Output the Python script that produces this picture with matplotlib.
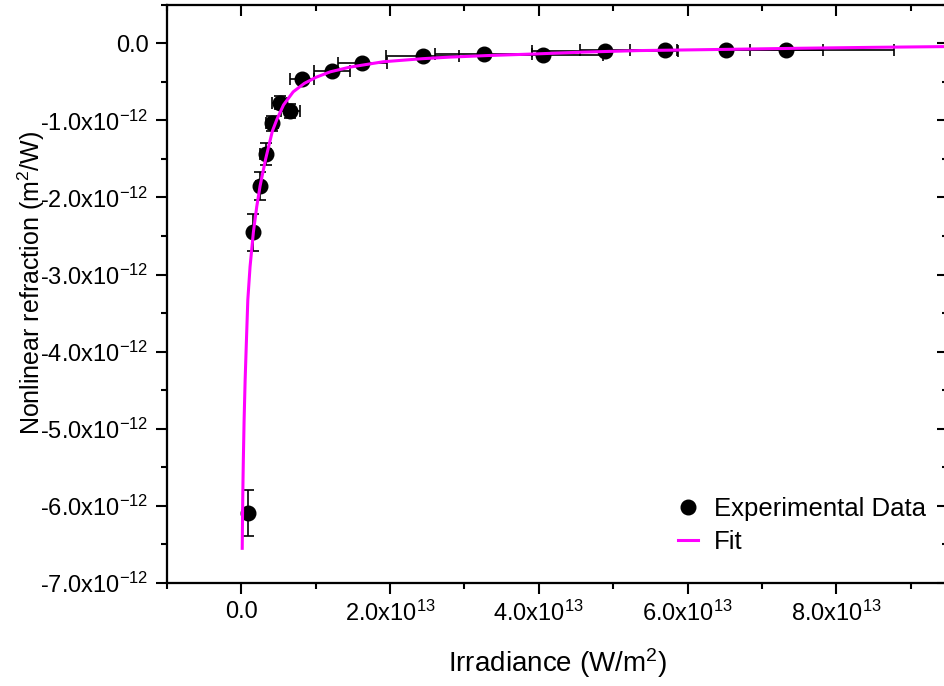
import matplotlib
matplotlib.use("Agg")
import matplotlib.pyplot as plt
import numpy as np
from matplotlib.ticker import MultipleLocator, FixedLocator, FuncFormatter, NullFormatter
from matplotlib.lines import Line2D

plt.rcParams['font.family'] = ['Liberation Sans', 'DejaVu Sans']
plt.rcParams['mathtext.fontset'] = 'custom'
plt.rcParams['mathtext.rm'] = 'Liberation Sans'
plt.rcParams['mathtext.it'] = 'Liberation Sans:italic'

# irradiance in 1e13 W/m^2, n2 in 1e-12 m^2/W
irradiance = [0.098, 0.165, 0.255, 0.33, 0.415, 0.52, 0.66, 0.82, 1.22, 1.63,
              2.44, 3.26, 4.06, 4.89, 5.70, 6.52, 7.32]
n2 = [-6.09, -2.45, -1.85, -1.44, -1.04, -0.77, -0.88, -0.47, -0.36, -0.25,
      -0.16, -0.14, -0.15, -0.094, -0.085, -0.09, -0.09]
n2_err = [0.30, 0.24, 0.18, 0.14, 0.10, 0.08, 0.09, 0.05, 0.04, 0.03,
          0.02, 0.02, 0.02, 0.01, 0.01, 0.01, 0.01]
irr_err = [0.02, 0.03, 0.05, 0.07, 0.08, 0.10, 0.13, 0.16, 0.24, 0.33,
           0.49, 0.65, 0.81, 0.98, 1.14, 1.30, 1.46]

fit_x = [0.015, 0.02, 0.025, 0.03, 0.04, 0.054, 0.07, 0.09, 0.12, 0.165, 0.21,
         0.255, 0.33, 0.42, 0.48, 0.57, 0.70, 0.85, 1.01, 1.2, 1.46, 1.91, 2.44,
         2.8, 3.3, 3.91, 4.6, 5.35, 5.88, 6.6, 7.5, 8.5, 9.5]
fit_y = [-6.55, -6.05, -5.70, -5.40, -4.90, -4.37, -3.90, -3.33, -2.90, -2.45, -2.12,
         -1.85, -1.50, -1.14, -0.99, -0.80, -0.63, -0.52, -0.44, -0.37, -0.31, -0.24, -0.20,
         -0.18, -0.16, -0.14, -0.115, -0.095, -0.088, -0.078, -0.065, -0.053, -0.043]

x_ticks = [0, 2, 4, 6, 8]
y_ticks = [-7, -6, -5, -4, -3, -2, -1, 0]

X = np.array(irradiance) * 1e13
Y = np.array(n2) * 1e-12

fig = plt.figure(figsize=(9.45, 6.86), dpi=100)
ax = fig.add_axes([166.7 / 945, 1 - 583 / 686, (948 - 166.7) / 945, (583 - 4.7) / 686])

ax.errorbar(X, Y, yerr=np.array(n2_err) * 1e-12, xerr=np.array(irr_err) * 1e13,
            fmt='o', color='black', ms=10.5, elinewidth=1.2, capsize=4.5, capthick=1.2,
            zorder=2)
fit_line, = ax.plot(np.array(fit_x) * 1e13, np.array(fit_y) * 1e-12, color='#ff00ff',
                    lw=2.2, zorder=3)

ax.set_xlim(-1e13, 9.5e13)
ax.set_ylim(-7e-12, 0.5e-12)

ax.xaxis.set_major_locator(FixedLocator(np.array(x_ticks) * 1e13))
ax.xaxis.set_minor_locator(MultipleLocator(1e13))
ax.yaxis.set_major_locator(FixedLocator(np.array(y_ticks) * 1e-12))
ax.yaxis.set_minor_locator(MultipleLocator(0.5e-12))


def xfmt(v, pos):
    m = v / 1e13
    if abs(m) < 1e-9:
        return '0.0'
    return r'%.1fx10$^{\mathregular{13}}$' % m


def yfmt(v, pos):
    m = v / 1e-12
    if abs(m) < 1e-9:
        return '0.0'
    return r'-%.1fx10$^{\mathregular{-12}}$' % abs(m)


ax.xaxis.set_major_formatter(FuncFormatter(xfmt))
ax.yaxis.set_major_formatter(FuncFormatter(yfmt))

for s in ax.spines.values():
    s.set_linewidth(1.5)

ax.tick_params(which='both', direction='out', width=1.5, labelsize=17, pad=5)
ax.tick_params(which='major', length=8)
ax.tick_params(which='minor', length=4.5)

# mirrored ticks on top and right point inward
axt = ax.twiny()
axt.set_xlim(ax.get_xlim())
axt.xaxis.set_major_locator(FixedLocator(np.array(x_ticks) * 1e13))
axt.xaxis.set_minor_locator(MultipleLocator(1e13))
axt.xaxis.set_major_formatter(NullFormatter())
axt.tick_params(axis='x', which='both', direction='in', width=1.5, labeltop=False)
axt.tick_params(axis='x', which='major', length=8)
axt.tick_params(axis='x', which='minor', length=4.5)
axr = ax.twinx()
axr.set_ylim(ax.get_ylim())
axr.yaxis.set_major_locator(FixedLocator(np.array(y_ticks) * 1e-12))
axr.yaxis.set_minor_locator(MultipleLocator(0.5e-12))
axr.yaxis.set_major_formatter(NullFormatter())
axr.tick_params(axis='y', which='both', direction='in', width=1.5, labelright=False)
axr.tick_params(axis='y', which='major', length=8)
axr.tick_params(axis='y', which='minor', length=4.5)
for a in (ax, axt, axr):
    a.xaxis.offsetText.set_visible(False)
    a.yaxis.offsetText.set_visible(False)
    for s in a.spines.values():
        s.set_linewidth(1.5)

ax.set_xlabel('Irradiance (W/m$^{\\mathregular{2}}$)', fontsize=20, labelpad=14)
ax.set_ylabel('Nonlinear refraction (m$^{\\mathregular{2}}$/W)', fontsize=18)
ax.yaxis.set_label_coords(-0.153, 0.519)

dot = Line2D([], [], ls='none', marker='o', color='black', ms=10.5)
ax.legend([dot, fit_line], ['Experimental Data', 'Fit'],
          loc='upper left', bbox_to_anchor=(0.717, 0.276), bbox_transform=fig.transFigure,
          frameon=False, borderpad=0, handlelength=0.8, handletextpad=0.6,
          labelspacing=0.35, fontsize=18.5, borderaxespad=0)

fig.savefig('out.png', dpi=100)
